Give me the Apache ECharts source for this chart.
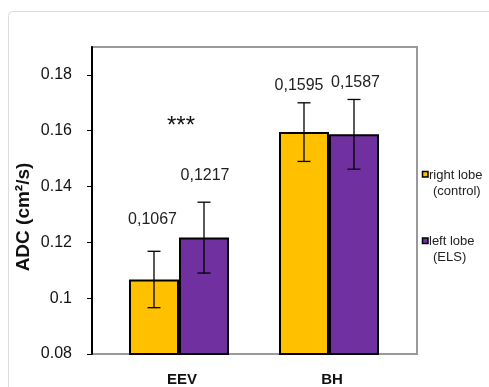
<!DOCTYPE html>
<html>
<head>
<meta charset="utf-8">
<script src="https://cdn.jsdelivr.net/npm/echarts@6/dist/echarts.min.js"></script>
<style>
html,body{margin:0;padding:0;background:#fff;}
#chart{width:489px;height:387px;}
</style>
</head>
<body>
<div id="chart"></div>
<script>
// ---- data ----
const categories = ['EEV', 'BH'];
const rightLobe = [0.1067, 0.1595];      // right lobe (control)
const leftLobe = [0.1217, 0.1587];       // left lobe (ELS)
const rightErr = [0.0101, 0.0105];
const leftErr = [0.0127, 0.0125];
const rightLabels = ['0,1067', '0,1595'];
const leftLabels = ['0,1217', '0,1587'];
const yTicks = [0.08, 0.1, 0.12, 0.14, 0.16, 0.18];
const legendLines = [['right lobe', '(control)'], ['left lobe', '(ELS)']];
const yName = 'ADC (cm²/s)';
const sigText = '***';

// ---- style ----
const yellow = '#FFC000';
const purple = '#7030A0';
const font = 'Liberation Sans, Arial, sans-serif';
const rightLift = [32, 17];
const leftLift = [27, 17];
const rightShift = [-1.5, -5];
const leftShift = [1, 1.5];

const chart = echarts.init(document.getElementById('chart'), null, {renderer: 'canvas'});

function errRender(sign, labels, lifts, shifts) {
  return function (params, api) {
    const ci = api.value(0), v = api.value(1), e = api.value(2);
    const band = api.size([1, 0])[0];
    const barW = band * (2 / 3) / 2;
    const c = api.coord([ci, v]);
    const x = c[0] + sign * barW / 2;
    const top = api.coord([ci, v + e])[1];
    const bot = api.coord([ci, v - e])[1];
    const cap = 6.5;
    const st = {stroke: '#000', lineWidth: 1.3};
    const i = params.dataIndex;
    return {
      type: 'group',
      children: [
        {type: 'line', shape: {x1: x, y1: top, x2: x, y2: bot}, style: st},
        {type: 'line', shape: {x1: x - cap, y1: top, x2: x + cap, y2: top}, style: st},
        {type: 'line', shape: {x1: x - cap, y1: bot, x2: x + cap, y2: bot}, style: st},
        {type: 'text', x: x + shifts[i], y: top - lifts[i],
          style: {text: labels[i], fill: '#222', font: '16px ' + font,
            align: 'center', verticalAlign: 'middle'}}
      ]
    };
  };
}

const option = {
  animation: false,
  backgroundColor: '#fff',
  grid: [
    {left: 92, top: 47, width: 325, height: 307, show: true, borderColor: '#9a9a9a', borderWidth: 2, backgroundColor: 'transparent'},
    {left: 104, top: 47, width: 300, height: 307}
  ],
  xAxis: [
    {gridIndex: 0, type: 'value', min: 0, max: 1, show: false},
    {gridIndex: 1, type: 'category', data: categories,
      axisLine: {show: false}, axisTick: {show: false}, splitLine: {show: false},
      axisLabel: {margin: 18, color: '#111', fontFamily: font, fontWeight: 'bold', fontSize: 15,
        padding: [0, 0, 0, 6]}}
  ],
  yAxis: [
    {gridIndex: 0, type: 'value', min: 0.08, max: 0.19, interval: 0.02,
      axisLine: {show: true, lineStyle: {color: '#000', width: 2}},
      axisTick: {show: true, length: 5, lineStyle: {color: '#000'}, customValues: yTicks},
      axisLabel: {margin: 20, color: '#111', fontFamily: font, fontSize: 16, customValues: yTicks},
      splitLine: {show: false}},
    {gridIndex: 1, type: 'value', min: 0.08, max: 0.19, show: false, splitLine: {show: false}}
  ],
  series: [
    {type: 'bar', name: 'right lobe (control)', xAxisIndex: 1, yAxisIndex: 1, data: rightLobe,
      barGap: '0%', barCategoryGap: '33.333%',
      itemStyle: {color: yellow, borderColor: '#000', borderWidth: 2}},
    {type: 'bar', name: 'left lobe (ELS)', xAxisIndex: 1, yAxisIndex: 1, data: leftLobe,
      barGap: '0%', barCategoryGap: '33.333%',
      itemStyle: {color: purple, borderColor: '#000', borderWidth: 2}},
    {type: 'custom', xAxisIndex: 1, yAxisIndex: 1, z: 5,
      data: categories.map((c, i) => [i, rightLobe[i], rightErr[i]]),
      renderItem: errRender(-1, rightLabels, rightLift, rightShift)},
    {type: 'custom', xAxisIndex: 1, yAxisIndex: 1, z: 5,
      data: categories.map((c, i) => [i, leftLobe[i], leftErr[i]]),
      renderItem: errRender(1, leftLabels, leftLift, leftShift)}
  ],
  graphic: [
    {type: 'rect', shape: {x: 8.5, y: 11.5, width: 520, height: 420, r: 4}, style: {fill: 'none', stroke: '#dcdcdc', lineWidth: 1}, z: -1},
    {type: 'text', x: 24, y: 217, rotation: Math.PI / 2,
      style: {text: yName, fill: '#111', font: 'bold 19px ' + font, align: 'center', verticalAlign: 'middle'}},
    {type: 'text', x: 181, y: 126,
      style: {text: sigText, fill: '#111', font: '24px ' + font, align: 'center', verticalAlign: 'middle'}},
    {type: 'rect', shape: {x: 422.5, y: 171.5, width: 5.5, height: 5.5}, style: {fill: yellow, stroke: '#000', lineWidth: 1.5}},
    {type: 'text', x: 429, y: 175, style: {text: legendLines[0][0], fill: '#222', font: '13px ' + font, verticalAlign: 'middle'}},
    {type: 'text', x: 433, y: 191, style: {text: legendLines[0][1], fill: '#222', font: '13px ' + font, verticalAlign: 'middle'}},
    {type: 'rect', shape: {x: 422.5, y: 238, width: 5.5, height: 5.5}, style: {fill: purple, stroke: '#000', lineWidth: 1.5}},
    {type: 'text', x: 429, y: 241, style: {text: legendLines[1][0], fill: '#222', font: '13px ' + font, verticalAlign: 'middle'}},
    {type: 'text', x: 433, y: 257, style: {text: legendLines[1][1], fill: '#222', font: '13px ' + font, verticalAlign: 'middle'}}
  ]
};
chart.setOption(option);
</script>
</body>
</html>
